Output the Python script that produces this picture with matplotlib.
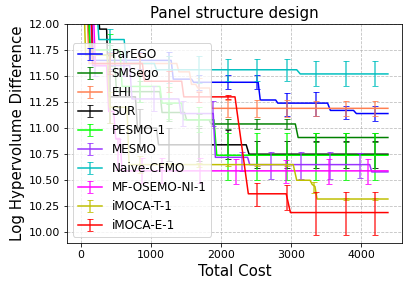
import matplotlib
matplotlib.use('Agg')
import matplotlib.pyplot as plt
from matplotlib.legend_handler import HandlerTuple

names = ['ParEGO', 'SMSego', 'EHI', 'SUR', 'PESMO-1', 'MESMO', 'Naive-CFMO',
         'MF-OSEMO-NI-1', 'iMOCA-T-1', 'iMOCA-E-1']
colors = ['b', 'g', 'coral', 'k', 'lime', '#9933ff', 'c', 'magenta', 'y', 'r']

E = [420, 840, 1260, 1680, 2100, 2520, 2940, 3360, 3780, 4200]

# step curves: (cost, log HV difference)
parego_x = [0, 150, 180, 1290, 1320, 1580, 1610, 2530, 2560, 2780, 2810, 3520, 3560, 3890, 3930, 4380]
parego_y = [12.15, 12.15, 11.65, 11.65, 11.47, 11.47, 11.44, 11.44, 11.27, 11.27, 11.24, 11.24, 11.17, 11.17, 11.14, 11.14]
parego_ey = [11.65, 11.65, 11.65, 11.44, 11.44, 11.44, 11.23, 11.23, 11.15, 11.14]
parego_err = [0.08, 0.08, 0.08, 0.07, 0.065, 0.065, 0.11, 0.115, 0.065, 0.075]

smsego_x = [0, 100, 130, 480, 510, 1130, 1160, 1480, 1510, 1830, 1860, 3060, 3100, 4380]
smsego_y = [12.15, 12.15, 11.70, 11.70, 11.35, 11.35, 11.15, 11.15, 11.08, 11.08, 11.04, 11.04, 10.91, 10.91]
smsego_ey = [11.70, 11.35, 11.15, 11.08, 11.04, 11.04, 11.04, 10.91, 10.91, 10.91]
smsego_err = [0.10, 0.10, 0.08, 0.06, 0.05, 0.05, 0.05, 0.04, 0.04, 0.04]

ehi_x = [0, 90, 120, 1370, 1400, 1550, 1580, 1640, 1670, 1840, 1870, 4380]
ehi_y = [12.15, 12.15, 11.62, 11.62, 11.54, 11.54, 11.42, 11.42, 11.385, 11.385, 11.19, 11.19]
ehi_ey = [11.62, 11.62, 11.62, 11.42, 11.19, 11.19, 11.19, 11.19, 11.19, 11.19]
ehi_err = [0.07, 0.07, 0.07, 0.06, 0.08, 0.08, 0.08, 0.07, 0.07, 0.07]

sur_x = [0, 250, 270, 370, 400, 780, 810, 1080, 1110, 2360, 2400, 4380]
sur_y = [12.15, 12.15, 11.95, 11.95, 11.30, 11.30, 11.00, 11.00, 10.84, 10.84, 10.75, 10.75]
sur_ey = [11.30, 11.00, 10.84, 10.84, 10.84, 10.75, 10.75, 10.75, 10.75, 10.75]
sur_err = [0.25, 0.18, 0.16, 0.16, 0.14, 0.13, 0.13, 0.13, 0.13, 0.13]

pesmo_x = [0, 110, 140, 560, 590, 1130, 1160, 1440, 1470, 1900, 1940, 4380]
pesmo_y = [12.15, 12.15, 11.75, 11.75, 11.40, 11.40, 11.24, 11.24, 11.08, 11.08, 10.74, 10.74]
pesmo_ey = [11.75, 11.40, 11.24, 11.08, 10.73, 10.73, 10.73, 10.73, 10.73, 10.73]
pesmo_err = [0.15, 0.15, 0.15, 0.12, 0.225, 0.225, 0.225, 0.225, 0.225, 0.225]

mesmo_x = [0, 140, 170, 700, 730, 1400, 1430, 1890, 1920, 2380, 2410, 4120, 4150, 4380]
mesmo_y = [12.15, 12.15, 11.60, 11.60, 11.28, 11.28, 11.14, 11.14, 10.72, 10.72, 10.65, 10.65, 10.58, 10.58]
mesmo_ex = [200, 620, 1040, 1460, 1880, 2300, 2720, 3140, 3560, 3980]
mesmo_ey = [11.60, 11.60, 11.28, 11.14, 11.14, 10.68, 10.64, 10.64, 10.64, 10.64]
mesmo_err = [0.10, 0.10, 0.12, 0.12, 0.12, 0.095, 0.13, 0.13, 0.13, 0.12]

cfmo_x = [0, 230, 260, 620, 650, 1050, 1080, 3080, 3130, 4380]
cfmo_y = [12.15, 12.15, 11.85, 11.85, 11.62, 11.62, 11.56, 11.56, 11.52, 11.52]
cfmo_ey = [11.85, 11.62, 11.56, 11.56, 11.555, 11.555, 11.555, 11.52, 11.52, 11.52]
cfmo_err = [0.10, 0.10, 0.13, 0.13, 0.107, 0.107, 0.107, 0.12, 0.12, 0.12]

osemo_x = [0, 180, 210, 370, 400, 470, 500, 560, 590, 4380]
osemo_y = [12.15, 12.15, 11.60, 11.60, 11.16, 11.16, 10.90, 10.90, 10.59, 10.59]
osemo_ex = [530, 880, 1160, 1700, 2210, 2930, 3540, 4090]
osemo_ey = [10.75, 10.59, 10.59, 10.59, 10.58, 10.58, 10.58, 10.58]
osemo_err = [0.15, 0.12, 0.12, 0.12, 0.12, 0.11, 0.12, 0.12]

imocat_x = [0, 50, 70, 380, 410, 660, 690, 3030, 3080, 3270, 3300, 3340, 3370, 4380]
imocat_y = [12.15, 12.15, 11.70, 11.70, 11.20, 11.20, 10.65, 10.65, 10.50, 10.50, 10.46, 10.44, 10.32, 10.32]
imocat_ex = [420, 840, 1260, 1680, 2100, 2520, 2940, 3320, 3780, 4200]
imocat_ey = [11.20, 10.65, 10.65, 10.65, 10.65, 10.65, 10.65, 10.43, 10.32, 10.32]
imocat_err = [0.15, 0.08, 0.02, 0.02, 0.01, 0.01, 0.01, 0.05, 0.01, 0.01]

imocae_x = [0, 150, 170, 880, 910, 1440, 1470, 2200, 2390, 2930, 2990, 4380]
imocae_y = [12.15, 12.15, 11.62, 11.62, 11.45, 11.45, 11.30, 11.30, 10.37, 10.37, 10.19, 10.19]
imocae_ey = [11.62, 11.62, 11.45, 11.30, 11.30, 10.36, 10.33, 10.18, 10.18, 10.18]
imocae_err = [0.10, 0.10, 0.10, 0.05, 0.02, 0.11, 0.12, 0.21, 0.21, 0.21]

series = [
    (parego_x, parego_y, E, parego_ey, parego_err),
    (smsego_x, smsego_y, E, smsego_ey, smsego_err),
    (ehi_x, ehi_y, E, ehi_ey, ehi_err),
    (sur_x, sur_y, E, sur_ey, sur_err),
    (pesmo_x, pesmo_y, E, pesmo_ey, pesmo_err),
    (mesmo_x, mesmo_y, mesmo_ex, mesmo_ey, mesmo_err),
    (cfmo_x, cfmo_y, E, cfmo_ey, cfmo_err),
    (osemo_x, osemo_y, osemo_ex, osemo_ey, osemo_err),
    (imocat_x, imocat_y, imocat_ex, imocat_ey, imocat_err),
    (imocae_x, imocae_y, E, imocae_ey, imocae_err),
]

fig = plt.figure(figsize=(412/72, 288/72), dpi=72)
ax = fig.add_axes([0.1626, 0.157, 0.813, 0.76])

handles = []
for (x, y, ex, ey, err), name, c in zip(series, names, colors):
    ln, = ax.plot(x, y, color=c, lw=1.5)
    eb = ax.errorbar(ex, ey, yerr=err, color=c, alpha=0.8, capsize=3,
                     linestyle='none', elinewidth=1.5)
    handles.append((ln, eb))

ax.set_xlim(-195, 4580)
ax.set_ylim(9.9, 12.0)
ax.set_yticks([10.0, 10.25, 10.5, 10.75, 11.0, 11.25, 11.5, 11.75, 12.0])
ax.grid(True, linestyle='--', color='#b0b0b0', alpha=0.8)
ax.tick_params(labelsize=11)
ax.set_xlabel('Total Cost', fontsize=15)
ax.set_ylabel('Log Hypervolume Difference', fontsize=15)
ax.set_title('Panel structure design', fontsize=15)
ax.legend(handles, names, loc='lower left', fontsize=12,
          handler_map={tuple: HandlerTuple(ndivide=1)})

plt.savefig('out.png', dpi=72)
plt.close()
